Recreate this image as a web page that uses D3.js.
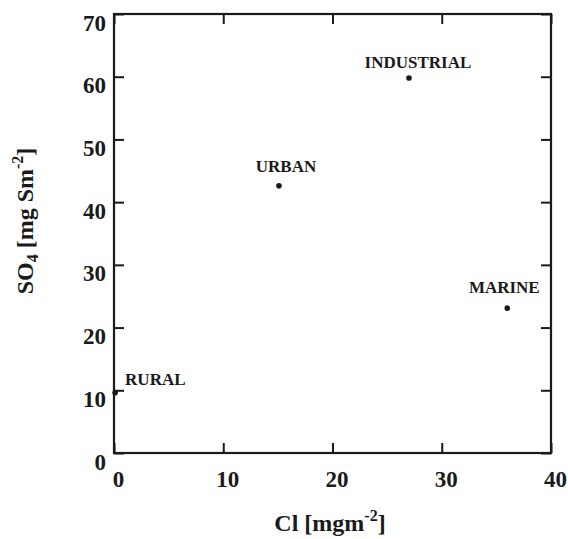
<!DOCTYPE html>
<html>
<head>
<meta charset="utf-8">
<script src="https://cdn.jsdelivr.net/npm/d3@7"></script>
<style>
  body { margin: 0; background: #fff; }
  text { font-family: "Liberation Serif", "DejaVu Serif", serif; font-weight: bold; fill: #1a1a1a; }
</style>
</head>
<body>
<div id="chart"></div>
<script>
// chart data
const sites = ["RURAL", "URBAN", "INDUSTRIAL", "MARINE"];
const cl = [0.1, 15.1, 27.0, 36.0];
const so4 = [9.6, 42.6, 59.8, 23.1];
const xTicks = [0, 10, 20, 30, 40];
const yTicks = [0, 10, 20, 30, 40, 50, 60, 70];

const width = 568;
const height = 539;
const margin = { top: 14, right: 17, bottom: 86, left: 114 };
const innerW = width - margin.left - margin.right;
const innerH = height - margin.top - margin.bottom;

const svg = d3.select("#chart").append("svg")
  .attr("width", width)
  .attr("height", height);

const g = svg.append("g")
  .attr("transform", `translate(${margin.left},${margin.top})`);

const x = d3.scaleLinear().domain([0, 40]).range([0, innerW]);
const y = d3.scaleLinear().domain([0, 70]).range([innerH, 0]);

// axes, ticks point inward on all four sides
const xAxis = g.append("g")
  .attr("transform", `translate(0,${innerH})`)
  .call(d3.axisBottom(x).tickValues(xTicks).tickSize(-10).tickPadding(0).tickFormat(d3.format("d")));
xAxis.selectAll("text").attr("font-size", 23).attr("dy", 34).attr("dx", 4);

const yAxis = g.append("g")
  .call(d3.axisLeft(y).tickValues(yTicks).tickSize(-10).tickPadding(8).tickFormat(d3.format("d")));
yAxis.selectAll("text").attr("font-size", 23).attr("dy", 16);

g.append("g")
  .call(d3.axisTop(x).tickValues(xTicks).tickSize(-10).tickFormat(""));
g.append("g")
  .attr("transform", `translate(${innerW},0)`)
  .call(d3.axisRight(y).tickValues(yTicks).tickSize(-10).tickFormat(""));

g.selectAll(".domain").remove();
g.selectAll(".tick line").attr("stroke", "#1a1a1a").attr("stroke-width", 2);

g.append("rect")
  .attr("width", innerW)
  .attr("height", innerH)
  .attr("fill", "none")
  .attr("stroke", "#1a1a1a")
  .attr("stroke-width", 2.2);

// points and labels
const pts = sites.map((s, i) => ({ name: s, cl: cl[i], so4: so4[i] }));

g.selectAll("circle.pt")
  .data(pts)
  .enter().append("circle")
  .attr("class", "pt")
  .attr("cx", d => x(d.cl))
  .attr("cy", d => y(d.so4))
  .attr("r", 2.8)
  .attr("fill", "#1a1a1a");

const labelOffset = { RURAL: [10, -8], URBAN: [7, -14], INDUSTRIAL: [9, -10], MARINE: [-3, -15] };
g.selectAll("text.lbl")
  .data(pts)
  .enter().append("text")
  .attr("class", "lbl")
  .attr("x", d => x(d.cl) + labelOffset[d.name][0])
  .attr("y", d => y(d.so4) + labelOffset[d.name][1])
  .attr("text-anchor", d => d.name === "RURAL" ? "start" : "middle")
  .attr("font-size", 17)
  .text(d => d.name);

// axis titles
const xt = svg.append("text")
  .attr("x", 330)
  .attr("y", 531)
  .attr("text-anchor", "middle")
  .attr("font-size", 24);
xt.append("tspan").text("Cl [mgm");
xt.append("tspan").attr("font-size", 16).attr("dy", -10).text("-2");
xt.append("tspan").attr("dy", 10).text("]");

const yt = svg.append("text")
  .attr("transform", "translate(33,221) rotate(-90)")
  .attr("text-anchor", "middle")
  .attr("font-size", 24);
yt.append("tspan").text("SO");
yt.append("tspan").attr("font-size", 16).attr("dy", 5).text("4");
yt.append("tspan").attr("dy", -5).text(" [mg Sm");
yt.append("tspan").attr("font-size", 16).attr("dy", -10).text("-2");
yt.append("tspan").attr("dy", 10).text("]");
</script>
</body>
</html>
